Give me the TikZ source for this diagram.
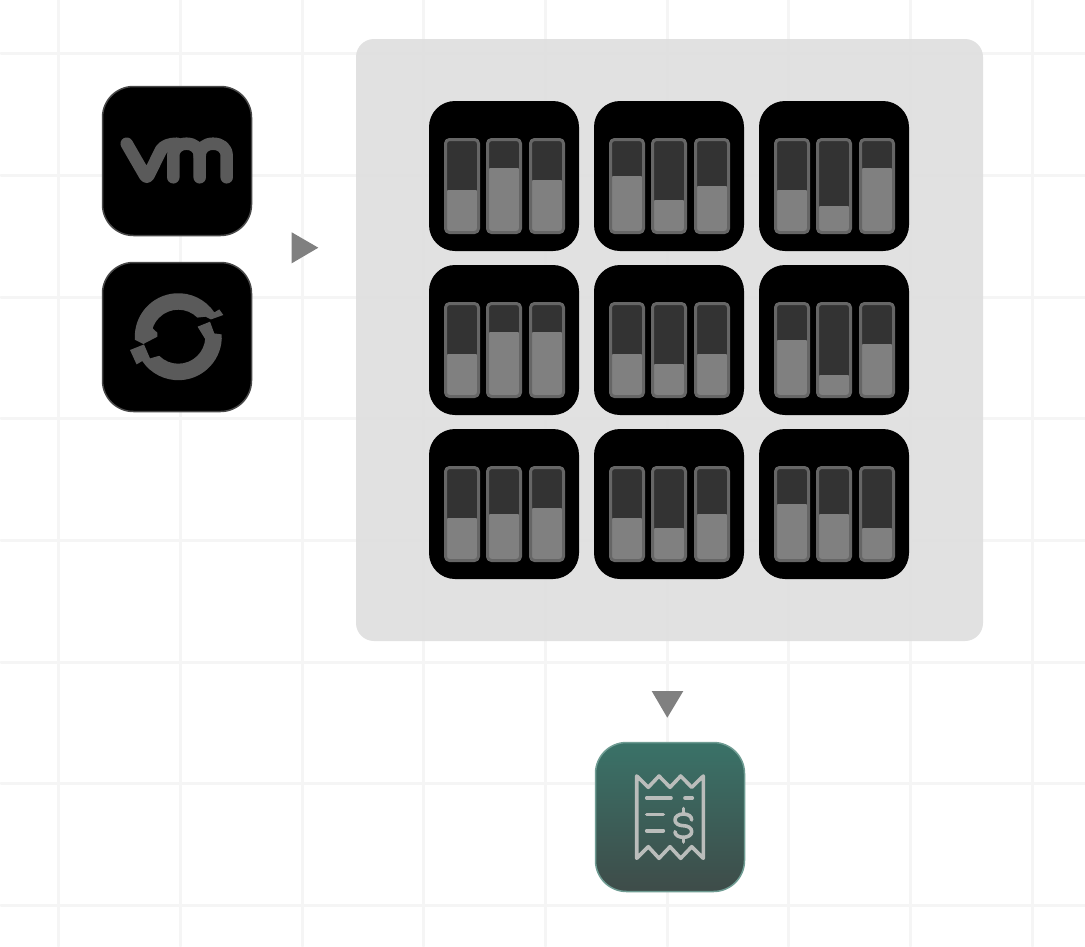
\documentclass[tikz,border=0pt]{standalone}
\usepackage{amsmath}
\usetikzlibrary{arrows,positioning}
\definecolor{gridgray}{HTML}{F5F5F5}
\definecolor{panelgray}{HTML}{E0E0E0}
\definecolor{icongray}{HTML}{5A5A5A}
\definecolor{tileedge}{HTML}{484848}
\definecolor{barback}{HTML}{333333}
\definecolor{barfill}{HTML}{808080}
\definecolor{baredge}{HTML}{666666}
\definecolor{billtop}{HTML}{3A7268}
\definecolor{billbot}{HTML}{3E4C49}
\definecolor{billedge}{HTML}{6F9C93}
\definecolor{billicon}{HTML}{BABDBB}
\tikzset{
	gridline/.style={line width=3pt,color=gridgray},
	tile/.style={rectangle,inner sep=0pt,minimum size=150pt,rounded corners=26pt,fill=black},
	sourcetile/.style={tile,draw=tileedge,line width=1.5pt,rounded corners=31pt,minimum size=149pt},
	billtile/.style={tile,draw=billedge,line width=1.5pt,rounded corners=31pt,minimum size=149pt,top color=billtop,bottom color=billbot},
	iconline/.style={line width=12.5pt,color=icongray,line cap=round,line join=round},
	billline/.style={line width=3.6pt,color=billicon,line cap=round,line join=round},
	pointer/.style={fill=barfill}
}
\begin{document}
\begin{tikzpicture}[line cap=round,line join=round,x=1pt,y=-1pt]
	\useasboundingbox (0,0) rectangle (1085,946);
	\fill [white] (0,0) rectangle (1085,946);
	\foreach \gx in {58,180,302,423,545,667,788,910,1032}
		\draw [gridline] (\gx,0) -- (\gx,946);
	\foreach \gy in {53,175,297,418,540,662,783,905}
		\draw [gridline] (1,\gy) -- (1085,\gy);
	\fill [panelgray,opacity=0.96,rounded corners=18pt] (356,39) rectangle (983,641);
	\node [sourcetile] (vmtile) at (177,161) {};
	\node [sourcetile] (shifttile) at (177,337) {};
	\node [billtile] (billing) at (670,817) {};
	\draw [iconline] (126.7,143.7) -- (144.5,174.5) .. controls (146,177.5) and (147.5,177.5) .. (149,174.5) -- (161,150) .. controls (164,145.5) and (170,143.7) .. (177,143.7);
	\draw [iconline] (173.3,177.3) -- (173.3,156) .. controls (173.3,148) and (179,143.7) .. (186.5,143.7) .. controls (194,143.7) and (199.7,148) .. (199.7,156) -- (199.7,177.3);
	\draw [iconline] (199.7,156) .. controls (199.7,148) and (205.5,143.7) .. (213,143.7) .. controls (221,143.7) and (226.7,148) .. (226.7,156) -- (226.7,177.3);
	\begin{scope}[shift={(178.3,336.7)}]
		\fill [icongray] (176:43.5) arc [start angle=176,end angle=326,radius=43.5] -- (41,-27.3) -- (45,-21.7) -- (32.7,-17.3) -- (27.3,-20) -- (315:27) arc [start angle=315,end angle=198,radius=27] -- (-21,-4) -- (-21,0) -- (-35,7.3) -- cycle;
		\fill [icongray] (-3:43.5) arc [start angle=-3,end angle=146,radius=43.5] -- (-41.7,27.7) -- (-48.3,13.3) -- (-34.3,7.7) -- (-28.3,21.7) -- (135:27) arc [start angle=135,end angle=5,radius=27] -- (19.3,-10) -- (31.7,-15) -- (36,-3.3) -- cycle;
	\end{scope}
	\foreach \tname/\tx/\ty/\la/\lb/\lc in {
		tileaa/429/101/89/67/79,tileab/594/101/75/99/85,tileac/759/101/89/105/67,
		tileba/429/265/89/67/67,tilebb/594/265/89/99/89,tilebc/759/265/75/110/79,
		tileca/429/429/89/85/79,tilecb/594/429/89/99/85,tilecc/759/429/75/85/99} {
		\node [tile] (\tname) at (\tx+75,\ty+75) {};
		\begin{scope}[shift={(\tx,\ty)}]
			\foreach \bx/\lvl in {16.5/\la,58.5/\lb,101.5/\lc} {
				\fill [barback,rounded corners=4pt] (\bx,38.5) rectangle (\bx+33,131.5);
				\fill [barfill,rounded corners=3pt] (\bx,\lvl) rectangle (\bx+33,131.5);
				\draw [baredge,line width=3pt,rounded corners=4pt] (\bx,38.5) rectangle (\bx+33,131.5);
			}
		\end{scope}
	}
	\fill [pointer] (291.7,232.3) -- (291.7,263.3) -- (318.3,247.7) -- cycle;
	\fill [pointer] (651.7,691) -- (683.3,691) -- (667.3,717.7) -- cycle;
	\draw [billline] (636.7,776) -- (648.3,787.3) -- (659,776) -- (670,787.3) -- (680.7,776) -- (691.7,787.3) -- (703.3,776) -- (703.3,858.3) -- (691.7,846.7) -- (680.7,858.3) -- (670,846.7) -- (659,858.3) -- (648.3,846.7) -- (636.7,858.3) -- cycle;
	\draw [billline] (646.7,798) -- (671,798);
	\draw [billline] (685,798) -- (692.3,798);
	\draw [billline] (646.7,814.3) -- (663.3,814.3);
	\draw [billline] (646.7,830.7) -- (663.3,830.7);
	\draw [billline] (691.7,820) .. controls (691.7,816) and (688,814) .. (683.3,814) .. controls (678.5,814) and (675,816.5) .. (675,820) .. controls (675,823.5) and (679,825.7) .. (683.3,825.7) .. controls (688,825.7) and (691.7,828) .. (691.7,831.7) .. controls (691.7,835) and (688,837.3) .. (683.3,837.3) .. controls (678.5,837.3) and (675,835) .. (675,831.7);
	\draw [billline] (683.3,808.5) -- (683.3,814);
	\draw [billline] (683.3,837.3) -- (683.3,842);
\end{tikzpicture}
\end{document}
